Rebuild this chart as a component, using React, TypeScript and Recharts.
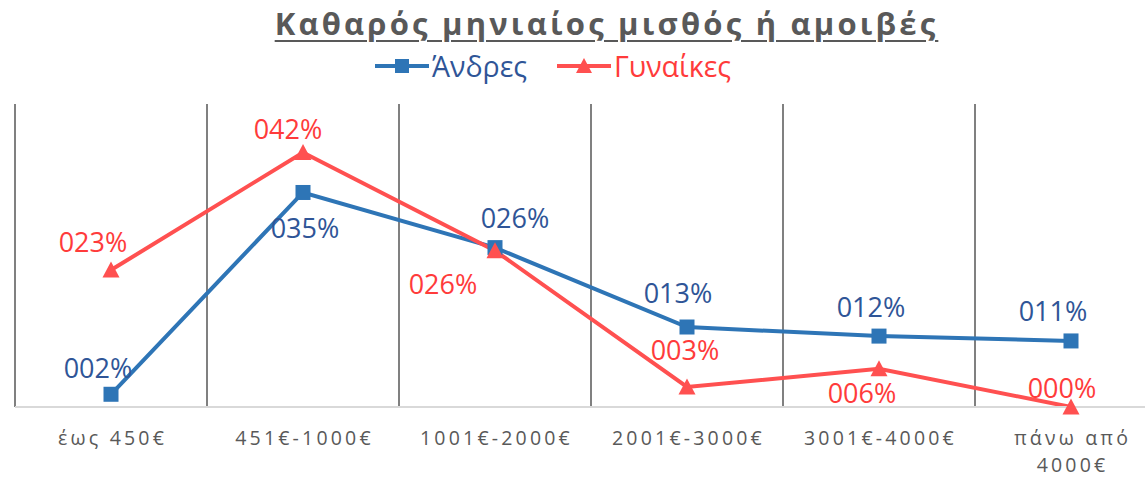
import { LineChart, Line, XAxis, YAxis, ReferenceLine, LabelList, Legend } from "recharts";

const categories = ["έως 450€", "451€-1000€", "1001€-2000€", "2001€-3000€", "3001€-4000€", "πάνω από 4000€"];
const menValues = [2.1, 35.4, 26.3, 13.2, 11.7, 10.9];
const womenValues = [22.6, 42.0, 25.8, 3.3, 6.3, 0.0];

// where each data label sits relative to its point (Excel placed them by hand)
const menLabelOffsets = [[-13, -27], [2, 35], [20, -30], [-9, -35], [-8, -30], [-18, -30]];
const womenLabelOffsets = [[-18, -29], [-15, -24], [-52, 33], [-2, -38], [-17, 24], [-9, -20]];

const data = categories.map((name, i) => ({ name, men: menValues[i], women: womenValues[i] }));

const BLUE = "#2E75B6";
const BLUE_TEXT = "#2F5597";
const RED = "#FF5050";
const RED_TEXT = "#FF3B3B";
const GREY = "#595959";
const FONT = "'Open Sans', sans-serif";

const pct = (v: number) => String(Math.round(v)).padStart(3, "0") + "%";

function CategoryTick({ x, y, payload }: any) {
  const words = String(payload.value).split(" ");
  const lines = words.length > 2 ? [words.slice(0, -1).join(" "), words[words.length - 1]] : [payload.value];
  return (
    <text x={x + 1.5} y={y} textAnchor="middle" fill={GREY} fontSize={19.5} letterSpacing={3.2} fontFamily={FONT}>
      {lines.map((l: string, i: number) => (
        <tspan key={i} x={x + 1.5} dy={i === 0 ? 30 : 27}>
          {l}
        </tspan>
      ))}
    </text>
  );
}

const makeLabel = (offsets: number[][], color: string) => (props: any) => {
  const { x, y, value, index } = props;
  const [dx, dy] = offsets[index] || [0, 0];
  return (
    <text x={x + dx} y={y + dy} textAnchor="middle" dominantBaseline="central" fill={color} fontSize={27} fontFamily={FONT}>
      {pct(Number(value))}
    </text>
  );
};

const square = (color: string, size: number) => (p: any) => (
  <rect key={`sq-${p.index}`} x={p.cx - size / 2} y={p.cy - size / 2} width={size} height={size} fill={color} />
);

const triangle = (color: string, w: number, h: number) => (p: any) => (
  <polygon
    key={`tr-${p.index}`}
    points={`${p.cx},${p.cy - h / 2 - 1} ${p.cx - w / 2},${p.cy + h / 2} ${p.cx + w / 2},${p.cy + h / 2}`}
    fill={color}
  />
);

function LegendContent() {
  const item = (label: string, color: string, textColor: string, marker: "square" | "triangle") => (
    <div style={{ display: "flex", alignItems: "center", marginRight: 30 }}>
      <svg width={54} height={20}>
        <line x1={0} y1={10} x2={54} y2={10} stroke={color} strokeWidth={4} />
        {marker === "square" ? (
          <rect x={20} y={3} width={14} height={14} fill={color} />
        ) : (
          <polygon points="27,2 19,17 35,17" fill={color} />
        )}
      </svg>
      <span style={{ color: textColor, fontSize: 28.5, fontFamily: FONT, marginLeft: 3, lineHeight: "36px" }}>{label}</span>
    </div>
  );
  return (
    <div style={{ display: "flex", justifyContent: "center", paddingRight: 44 }}>
      {item("Άνδρες", BLUE, BLUE_TEXT, "square")}
      {item("Γυναίκες", RED, RED_TEXT, "triangle")}
    </div>
  );
}

export default function App() {
  return (
    <div style={{ position: "absolute", left: 0, top: 0, width: 1145, height: 478, overflow: "hidden", background: "#fff" }}>
      <div
        style={{
          position: "absolute",
          top: 0,
          left: 0,
          width: 1213,
          textAlign: "center",
          fontFamily: FONT,
          fontWeight: 700,
          fontSize: 31,
          letterSpacing: 3.2,
          color: GREY,
          textDecoration: "underline",
          textDecorationThickness: 2,
          textUnderlineOffset: 5,
          lineHeight: "46px",
        }}
      >
        Καθαρός μηνιαίος μισθός ή αμοιβές
      </div>
      <LineChart width={1180} height={478} data={data} margin={{ top: 68, right: 13, left: 15, bottom: 11 }}>
        <XAxis
          dataKey="name"
          scale="band"
          height={60}
          tickLine={false}
          axisLine={{ stroke: "#D9D9D9", strokeWidth: 2 }}
          tick={<CategoryTick />}
          interval={0}
        />
        <YAxis hide domain={[0, 50]} />
        {categories.map((c) => (
          <ReferenceLine key={c} x={c} position="start" stroke="#808080" strokeWidth={2} />
        ))}
        <Legend verticalAlign="top" wrapperStyle={{ top: 48, left: 0, width: 1180 }} content={<LegendContent />} />
        <Line
          dataKey="men"
          name="Άνδρες"
          stroke={BLUE}
          strokeWidth={4}
          dot={square(BLUE, 15)}
          activeDot={false}
          isAnimationActive={false}
        >
          <LabelList dataKey="men" content={makeLabel(menLabelOffsets, BLUE_TEXT)} />
        </Line>
        <Line
          dataKey="women"
          name="Γυναίκες"
          stroke={RED}
          strokeWidth={4}
          dot={triangle(RED, 17, 15)}
          activeDot={false}
          isAnimationActive={false}
        >
          <LabelList dataKey="women" content={makeLabel(womenLabelOffsets, RED_TEXT)} />
        </Line>
      </LineChart>
    </div>
  );
}
